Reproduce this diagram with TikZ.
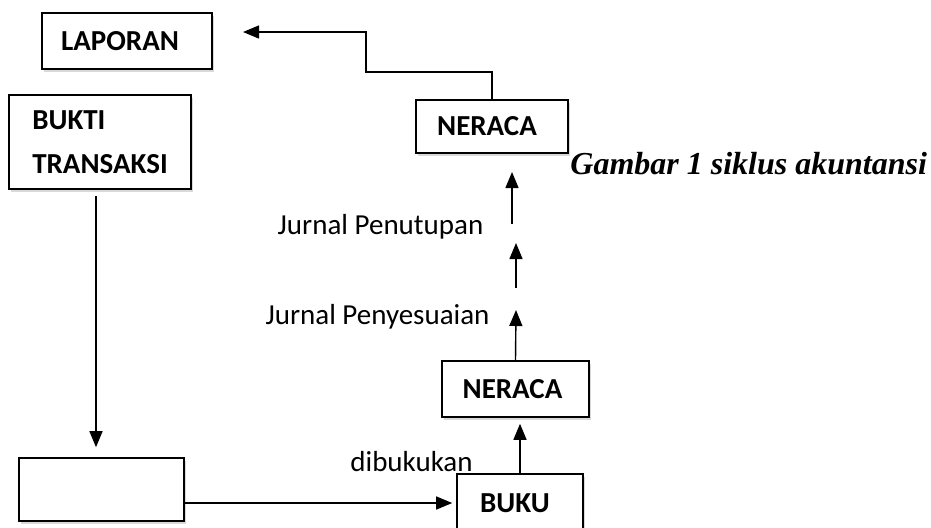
\documentclass[tikz,border=0pt]{standalone}
\usepackage{fontspec}
\setmainfont{Carlito}
\newfontfamily\capfont{Liberation Serif}
\usetikzlibrary{arrows.meta,shadows}

\begin{document}
\begin{tikzpicture}[x=0.5pt, y=-0.5pt, font=\fontsize{14.5}{17}\selectfont,
  box/.style={draw, line width=0.8pt, fill=white, inner sep=0pt,
    font=\fontsize{14.5}{22}\selectfont\bfseries,
    drop shadow={opacity=0.3, shadow xshift=1pt, shadow yshift=-1.5pt}},
  arr/.style={-{Triangle[length=8pt, width=6.5pt]}, line width=0.7pt}]
  \useasboundingbox (0,0) rectangle (931,527);
  % kotak-kotak
  \node[box, minimum width=85pt, minimum height=28pt] (laporan) at (127,41) {LAPORAN\hspace*{7pt}};
  \node[box, minimum width=91pt, minimum height=47pt, align=left] (bukti) at (100,142) {BUKTI\\TRANSAKSI};
  \node[box, minimum width=82.5pt, minimum height=31.5pt] (kosong) at (101.5,489.5) {};
  \node[box, minimum width=63pt, minimum height=29pt] (buku) at (520,503) {BUKU\hspace*{5pt}};
  \node[box, minimum width=73.5pt, minimum height=28pt] (neracaB) at (515.5,389) {NERACA\hspace*{3pt}};
  \node[box, minimum width=76pt, minimum height=26.5pt] (neracaA) at (492,126.5) {NERACA\hspace*{5pt}};
  % keterangan
  \node (dibukukan) at (411.5,462) {dibukukan};
  \node (penyesuaian) at (377.5,317) {Jurnal Penyesuaian};
  \node (penutupan) at (380.5,227) {Jurnal Penutupan};
  \node[font=\capfont\fontsize{16}{18}\selectfont\bfseries\itshape, anchor=base west, inner sep=0pt]
    (judul) at (570,174) {Gambar 1 siklus akuntansi};
  % titik ujung panah
  \coordinate (a1) at (516,310);
  \coordinate (a2s) at (516,288);
  \coordinate (a2e) at (516,243);
  \coordinate (a3s) at (512,224);
  \coordinate (a3e) at (512,172);
  \coordinate (lapin) at (243,32);
  % panah
  \draw[arr, shorten <=3pt, shorten >=5pt] ([xshift=-2pt]bukti.south) -- ([xshift=-2pt]bukti.south |- kosong.north);
  \draw[arr, shorten >=2pt] (kosong.east |- buku.west) -- (buku.west);
  \draw[arr, shorten >=3pt] (buku.north) -- (buku.north |- neracaB.south);
  \draw[arr] (neracaB.north) -- (a1);
  \draw[arr] (a2s) -- (a2e);
  \draw[arr] (a3s) -- (a3e);
  \draw[arr] (neracaA.north) |- (366,72) |- (lapin);
\end{tikzpicture}
\end{document}
